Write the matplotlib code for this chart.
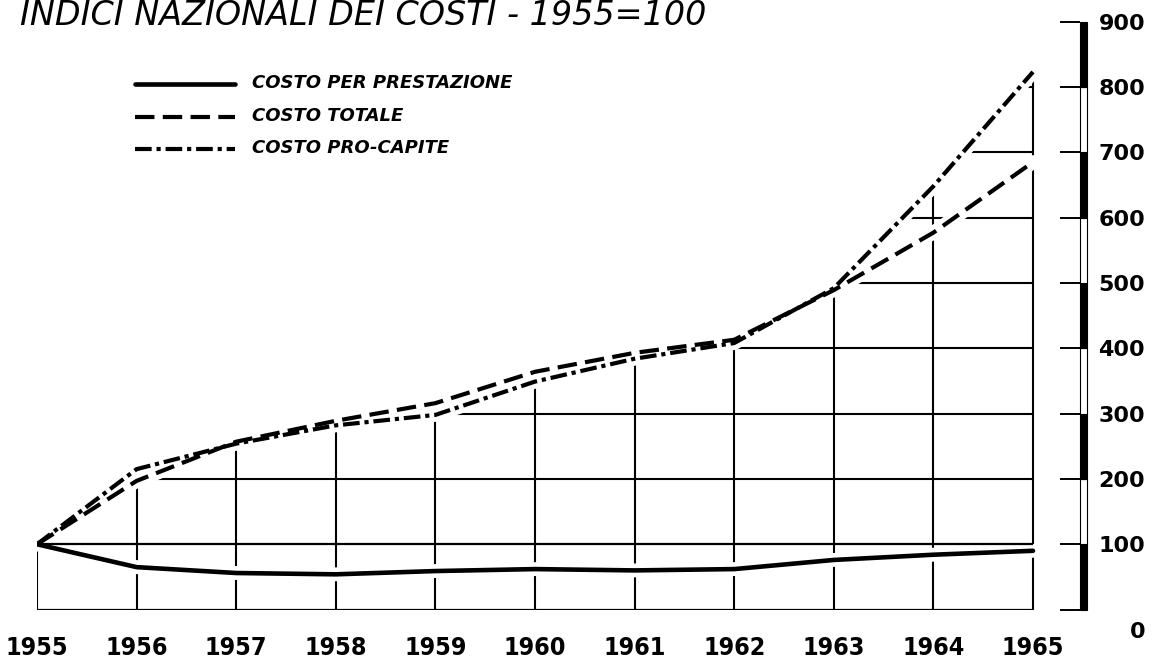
import numpy as np
import matplotlib
matplotlib.use('Agg')
import matplotlib.pyplot as plt
import matplotlib.transforms as mtransforms
from matplotlib import font_manager
from matplotlib.patches import Polygon, Rectangle
from matplotlib.lines import Line2D

# indici 1955 = 100
years = [1955, 1956, 1957, 1958, 1959, 1960, 1961, 1962, 1963, 1964, 1965]
costo_prestazione = [100, 65, 56, 54, 59, 62, 60, 62, 76, 84, 90]
costo_totale = [100, 197, 257, 289, 316, 364, 393, 413, 489, 577, 685]
costo_pro_capite = [100, 215, 254, 282, 298, 349, 384, 408, 492, 648, 823]
scale_ticks = [0, 100, 200, 300, 400, 500, 600, 700, 800, 900]

title = "INDICI NAZIONALI DEI COSTI - 1955=100"
legend_labels = ["COSTO PER PRESTAZIONE", "COSTO TOTALE", "COSTO PRO-CAPITE"]

plt.rcParams['lines.scale_dashes'] = False
W, H = 1153, 670

installed = {f.name for f in font_manager.fontManager.ttflist}
if 'Liberation Sans Narrow' in installed:
    year_font = dict(family='Liberation Sans Narrow', size=23, weight='bold')
else:
    year_font = dict(family='DejaVu Sans', size=18, weight='bold', stretch='condensed')

fig = plt.figure(figsize=(W / 100, H / 100), dpi=100)
ax = fig.add_axes([37 / W, (H - 609.6) / H, (1080 - 37) / W, (609.6 - 21.6) / H])
ax.set_xlim(1955, 1965 + 47 / 99.6)
ax.set_ylim(0, 900)
for s in ax.spines.values():
    s.set_visible(False)

# reticolo solo sotto le curve
env = np.maximum(costo_totale, costo_pro_capite)
xs = [1954.8, 1954.8] + years + [1965.2, 1965.2]
ys = [-10, env[0]] + list(env) + [env[-1], -10]
clip = Polygon(np.column_stack([xs, ys]), closed=True, transform=ax.transData)

vl = ax.vlines(years, 0, 900, colors='black', linewidth=1.5, zorder=1)
vl.set_clip_path(clip)
hl = ax.hlines(scale_ticks[2:-1], 1955, 1965, colors='black', linewidth=1.5, zorder=1)
hl.set_clip_path(clip)

for serie in (costo_prestazione, costo_totale, costo_pro_capite):
    ax.plot(years, serie, color='white', lw=10, solid_capstyle='round', zorder=2)

ax.hlines([0, 100], 1955, 1965, colors='black', linewidth=1.6, zorder=3)

solid = dict(linestyle='-', lw=3.3, solid_capstyle='round', solid_joinstyle='round')
dashed = dict(linestyle=(0, (14, 6)), lw=3.0)
dashdot = dict(linestyle=(0, (12, 3.5, 3, 3.5)), lw=3.0)
ax.plot(years, costo_prestazione, color='black', zorder=4, **solid)
ax.plot(years, costo_totale, color='black', zorder=4, **dashed)
ax.plot(years, costo_pro_capite, color='black', zorder=4, **dashdot)

# scala a destra
blend = mtransforms.blended_transform_factory(ax.transAxes, ax.transData)
bar_w = 7 / (1080 - 37)
for i, b in enumerate(scale_ticks[:-1]):
    fc = 'black' if i % 2 == 0 else 'white'
    ax.add_patch(Rectangle((1.0, b), bar_w, 100, transform=blend, facecolor=fc,
                           edgecolor='black', linewidth=0.8, clip_on=False, zorder=5))

ax.yaxis.tick_right()
ax.set_yticks(scale_ticks)
ax.tick_params(axis='y', direction='in', length=14.4, width=1.4, pad=46.8, labelsize=16)
for lbl in ax.get_yticklabels():
    lbl.set_ha('right')
    lbl.set_fontweight('bold')
lbl0 = ax.get_yticklabels()[0]
lbl0.set_transform(lbl0.get_transform() + mtransforms.ScaledTranslation(0, -0.2, fig.dpi_scale_trans))

ax.set_xticks(years)
ax.set_xticklabels([str(y) for y in years], fontsize=year_font['size'],
                   fontfamily=year_font['family'], fontweight=year_font['weight'],
                   fontstretch=year_font.get('stretch', 'normal'))
ax.tick_params(axis='x', length=0, pad=19)

# titolo e legenda
fig.text(20 / W, 1 - 25 / H, title, fontsize=24, fontstyle='italic', va='baseline')

styles = [solid, dashed, dashdot]
rows = [84, 117, 149]
for y, st, lab in zip(rows, styles, legend_labels):
    fig.add_artist(Line2D([135 / W, 235 / W], [1 - y / H] * 2, transform=fig.transFigure,
                          color='black', **st))
    fig.text(252 / W, 1 - (y + 4) / H, lab, fontsize=13, fontweight='bold',
             fontstyle='italic', va='baseline')

fig.savefig('out.png', dpi=100)
